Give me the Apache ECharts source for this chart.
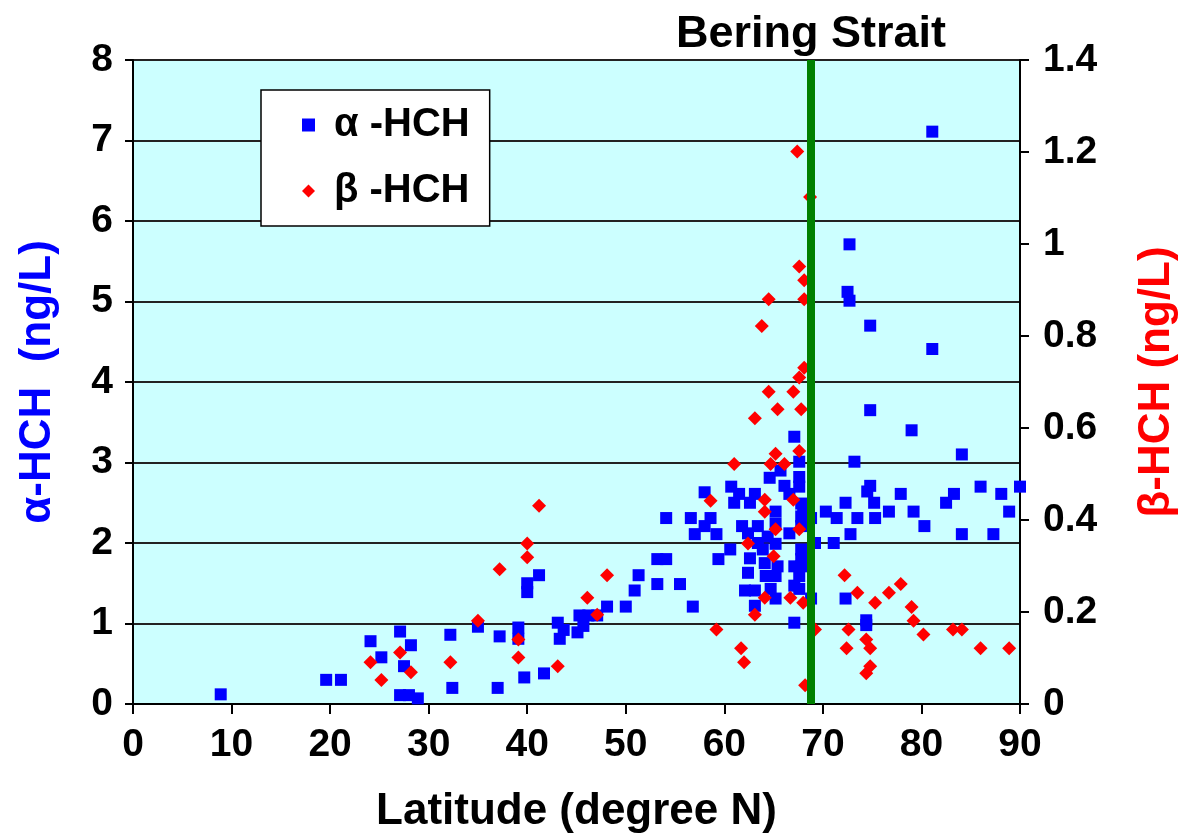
<!DOCTYPE html>
<html>
<head>
<meta charset="utf-8">
<script src="https://cdn.jsdelivr.net/npm/echarts@6/dist/echarts.min.js"></script>
<style>
html,body{margin:0;padding:0;background:#fff;}
#chart{width:1187px;height:839px;}
</style>
</head>
<body>
<div id="chart"></div>
<script>
// Latitude (degree N) and alpha-HCH (ng/L), left axis
const alphaLat = [8.9,19.6,21.1,24.1,25.2,27.1,28.2,27.5,27.1,28.0,28.9,32.2,32.4,35.0,37.2,37.0,39.1,39.1,39.7,40.0,40.0,41.2,41.7,43.1,43.7,43.3,45.1,45.3,45.7,46.2,47.1,48.1,50.0,50.9,51.3,53.2,53.2,54.1,54.1,56.6,57.0,55.5,56.8,58.6,58.0,58.0,59.2,59.4,60.6,60.7,61.5,61.0,62.6,63.1,61.8,62.4,63.4,62.6,62.4,62.1,63.1,63.1,63.4,63.9,64.4,64.1,64.2,64.6,65.2,65.2,65.2,65.4,65.2,64.7,65.2,65.7,66.1,66.6,66.6,67.1,67.6,67.6,67.6,67.8,67.8,67.8,67.8,67.8,67.8,67.6,67.6,68.8,67.1,69.2,68.0,68.8,67.1,67.1,70.3,71.4,72.3,71.1,72.3,74.8,79.0,84.1,73.2,74.8,74.5,75.2,73.5,75.3,76.7,77.9,79.2,80.3,82.5,83.3,84.1,86.0,88.1,88.9,87.3,90.0,72.8,74.4,74.4,81.1,72.7,72.5,72.7,74.8,81.1];
const alphaVal = [0.12,0.30,0.30,0.78,0.58,0.90,0.73,0.47,0.11,0.11,0.07,0.86,0.20,0.96,0.84,0.20,0.95,0.81,0.33,1.50,1.39,1.60,0.38,1.01,0.92,0.81,0.89,1.10,0.97,1.10,1.10,1.21,1.21,1.41,1.60,1.49,1.80,1.80,2.31,2.31,2.11,1.49,1.21,2.31,2.63,2.21,2.11,1.80,1.92,2.70,2.61,2.50,2.50,2.61,2.21,2.12,2.21,1.81,1.63,1.41,1.41,1.22,2.00,1.92,2.08,1.75,1.59,2.81,2.39,2.24,1.99,1.71,1.59,1.43,1.31,2.90,2.71,2.61,2.12,3.32,3.01,2.82,2.70,2.49,2.33,2.21,1.92,1.80,1.71,1.59,1.43,1.31,1.01,2.00,2.45,2.31,1.71,1.47,2.39,2.31,2.50,2.00,1.31,3.65,3.40,3.10,3.01,2.71,2.64,2.50,2.31,2.31,2.39,2.61,2.39,2.21,2.50,2.61,2.11,2.70,2.61,2.39,2.11,2.70,2.11,1.04,0.98,7.11,5.71,5.12,5.01,4.70,4.41];
// Latitude (degree N) and beta-HCH (ng/L), right axis
const betaLat = [24.1,25.2,27.1,28.2,32.2,35.0,37.2,39.1,39.1,40.0,40.0,41.2,43.1,46.1,47.1,48.1,58.6,59.2,61.0,61.7,62.0,62.4,63.1,63.1,63.8,64.1,64.1,64.1,64.5,64.5,64.7,65.0,65.2,65.2,65.4,66.1,66.7,67.0,67.0,67.4,67.6,67.6,67.6,67.6,67.8,68.0,68.1,68.1,68.1,68.2,68.7,69.2,72.2,72.6,72.4,73.5,74.4,74.8,74.8,74.4,75.3,76.7,77.9,79.0,79.2,80.2,83.2,84.1,86.0,88.9];
const betaVal = [0.091,0.052,0.112,0.069,0.091,0.181,0.293,0.140,0.101,0.349,0.319,0.431,0.082,0.231,0.194,0.280,0.442,0.162,0.522,0.121,0.091,0.349,0.621,0.194,0.822,0.444,0.418,0.231,0.880,0.679,0.522,0.321,0.544,0.380,0.641,0.522,0.231,0.679,0.444,1.201,0.951,0.710,0.550,0.380,0.641,0.220,0.921,0.880,0.731,0.041,1.102,0.162,0.280,0.162,0.121,0.242,0.140,0.121,0.082,0.067,0.220,0.242,0.261,0.211,0.181,0.151,0.162,0.162,0.121,0.121];
const beringLat = 68.8;
const seriesNames = ['α -HCH', 'β -HCH'];
const xTitle = 'Latitude (degree N)';
const yLeftTitle = 'α-HCH  (ng/L)';
const yRightTitle = 'β-HCH (ng/L)';
const lineTitle = 'Bering Strait';

const FONT = '"Liberation Sans", Arial, Helvetica, sans-serif';
const alphaData = alphaLat.map((x, i) => [x, alphaVal[i]]);
const betaData = betaLat.map((x, i) => [x, betaVal[i]]);

const chart = echarts.init(document.getElementById('chart'), null, {renderer: 'canvas'});
const tickLbl = {color: '#000', fontFamily: FONT, fontWeight: 'bold', fontSize: 39};
chart.setOption({
  animation: false,
  backgroundColor: '#fff',
  title: {
    text: lineTitle, left: 806, top: 7, textAlign: 'center',
    textStyle: {fontFamily: FONT, fontWeight: 'bold', fontSize: 45, color: '#000'}
  },
  grid: {left: 133, right: 164, top: 60, bottom: 130, show: true, backgroundColor: '#CCFFFF', borderWidth: 0},
  legend: {
    data: seriesNames, orient: 'vertical', left: 261, top: 90,
    padding: [15, 20, 15, 41], itemGap: 26, itemWidth: 13, itemHeight: 13,
    backgroundColor: '#fff', borderColor: '#000', borderWidth: 1.5,
    formatter: '{t|{name}}',
    textStyle: {fontFamily: FONT, fontWeight: 'bold', fontSize: 40, color: '#000',
      rich: {t: {fontFamily: FONT, fontWeight: 'bold', fontSize: 40, color: '#000', padding: [0, 0, 0, 14]}}}
  },
  xAxis: {
    type: 'value', min: 0, max: 90, interval: 10,
    name: xTitle, nameLocation: 'middle', nameGap: 86,
    nameTextStyle: {fontFamily: FONT, fontWeight: 'bold', fontSize: 44, color: '#000'},
    axisLine: {show: true, onZero: false, lineStyle: {color: '#000', width: 2}},
    axisTick: {show: true, length: 10, lineStyle: {color: '#000', width: 2}},
    axisLabel: Object.assign({margin: 22}, tickLbl),
    splitLine: {show: false}
  },
  yAxis: [{
    type: 'value', min: 0, max: 8, interval: 1, position: 'left',
    name: yLeftTitle, nameLocation: 'middle', nameGap: 73,
    nameTextStyle: {fontFamily: FONT, fontWeight: 'bold', fontSize: 44, color: '#0000FF'},
    axisLine: {show: true, onZero: false, lineStyle: {color: '#000', width: 2}},
    axisTick: {show: true, length: 8, lineStyle: {color: '#000', width: 2}},
    axisLabel: Object.assign({margin: 20}, tickLbl),
    splitLine: {show: true, lineStyle: {color: '#222', width: 2}}
  }, {
    type: 'value', min: 0, max: 1.4, interval: 0.2, position: 'right',
    name: yRightTitle, nameLocation: 'middle', nameGap: 115,
    nameTextStyle: {fontFamily: FONT, fontWeight: 'bold', fontSize: 44, color: '#FF0000'},
    axisLine: {show: true, onZero: false, lineStyle: {color: '#000', width: 2}},
    axisTick: {show: true, length: 9, lineStyle: {color: '#000', width: 2}},
    axisLabel: Object.assign({margin: 23}, tickLbl),
    splitLine: {show: false}
  }],
  series: [{
    name: seriesNames[0], type: 'scatter', yAxisIndex: 0, data: alphaData,
    symbol: 'rect', symbolSize: 12, itemStyle: {color: '#0000FF', opacity: 1}, z: 3
  }, {
    name: seriesNames[1], type: 'scatter', yAxisIndex: 1, data: betaData,
    symbol: 'diamond', symbolSize: 14, itemStyle: {color: '#FF0000', opacity: 1}, z: 4
  }, {
    name: 'bering', type: 'scatter', yAxisIndex: 0, data: [], z: 5,
    markLine: {
      silent: true, symbol: ['none', 'none'], animation: false,
      label: {show: false},
      lineStyle: {color: '#008000', width: 8, type: 'solid'},
      data: [{xAxis: beringLat}]
    }
  }]
});
</script>
</body>
</html>
